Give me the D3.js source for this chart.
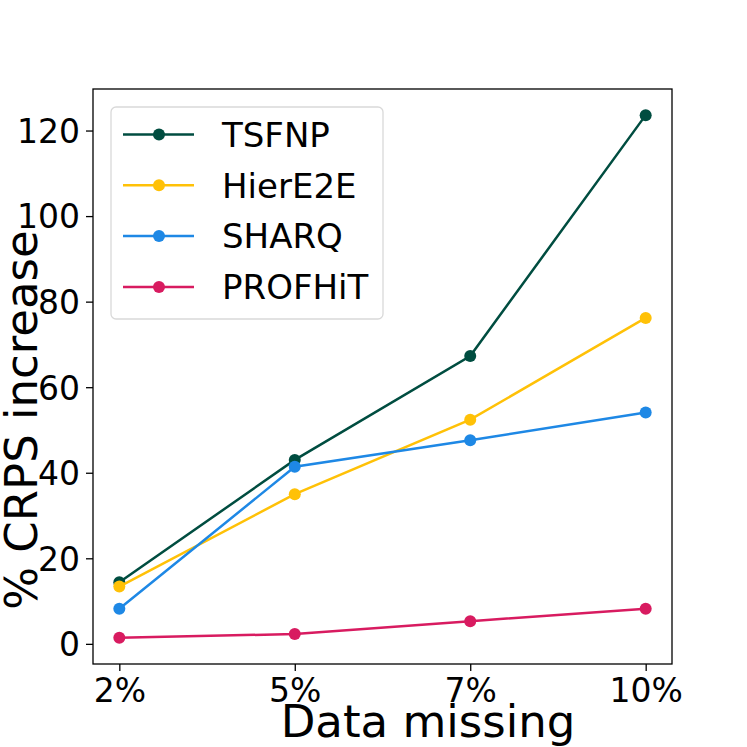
<!DOCTYPE html>
<html>
<head>
<meta charset="utf-8">
<script src="https://cdn.jsdelivr.net/npm/d3@7"></script>
<style>
  body { margin: 0; background: white; }
  text { font-family: "DejaVu Sans", sans-serif; }
</style>
</head>
<body>
<svg width="747" height="747"></svg>
<script>
// Data
const categories = ['2%', '5%', '7%', '10%'];
const series_names = ['TSFNP', 'HierE2E', 'SHARQ', 'PROFHiT'];
const tsfnp = [14.4, 43.0, 67.3, 123.6];
const hiere2e = [13.4, 35.0, 52.4, 76.2];
const sharq = [8.2, 41.4, 47.6, 54.1];
const profhit = [1.4, 2.3, 5.3, 8.2];
const y_ticks = [0, 20, 40, 60, 80, 100, 120];
const colors = ['#004d40', '#ffc107', '#1e88e5', '#d81b60'];

const series = [tsfnp, hiere2e, sharq, profhit].map((values, i) => ({
    name: series_names[i],
    color: colors[i],
    values: values
}));

// Constants
const svg = d3.select('svg');
const margin = { top: 89, right: 75, bottom: 83, left: 93 };
const width = +svg.attr('width');
const height = +svg.attr('height');
const inner_width = width - margin.left - margin.right;
const inner_height = height - margin.top - margin.bottom;

const all_values = series.flatMap(s => s.values);
const y_min = d3.min(all_values);
const y_max = d3.max(all_values);
const y_pad = (y_max - y_min) * 0.05;

const x_scale = d3.scalePoint()
    .domain(categories)
    .range([0, inner_width])
    .padding(0.15);

const y_scale = d3.scaleLinear()
    .domain([y_min - y_pad, y_max + y_pad])
    .range([inner_height, 0]);

const g = svg.append('g')
    .attr('transform', `translate(${margin.left}, ${margin.top})`);

// Axes
const y_axis = g.append('g')
    .call(d3.axisLeft(y_scale).tickValues(y_ticks).tickSize(7).tickPadding(6));
const x_axis = g.append('g')
    .attr('transform', `translate(0, ${inner_height})`)
    .call(d3.axisBottom(x_scale).tickSize(7).tickPadding(5));

[y_axis, x_axis].forEach(ax => {
    ax.select('.domain').remove();
    ax.selectAll('.tick line').attr('stroke', 'black').attr('stroke-width', 1.3);
    ax.selectAll('.tick text')
        .attr('fill', 'black')
        .style('font-size', '33px')
        .style('font-family', '"DejaVu Sans", sans-serif');
});
x_axis.selectAll('.tick text').attr('dy', '0.8em');
y_axis.selectAll('.tick text').attr('dy', '0.36em');

// Frame
g.append('rect')
    .attr('x', 0)
    .attr('y', 0)
    .attr('width', inner_width)
    .attr('height', inner_height)
    .attr('fill', 'none')
    .attr('stroke', 'black')
    .attr('stroke-width', 1.3);

// Lines and markers
const line = d3.line()
    .x((d, i) => x_scale(categories[i]))
    .y(d => y_scale(d));

series.forEach(s => {
    g.append('path')
        .datum(s.values)
        .attr('d', line)
        .attr('fill', 'none')
        .attr('stroke', s.color)
        .attr('stroke-width', 2.5);
    g.selectAll(null)
        .data(s.values)
        .enter()
        .append('circle')
        .attr('cx', (d, i) => x_scale(categories[i]))
        .attr('cy', d => y_scale(d))
        .attr('r', 6)
        .attr('fill', s.color);
});

// Axis labels
svg.append('text')
    .attr('x', 428)
    .attr('y', 737)
    .attr('text-anchor', 'middle')
    .style('font-size', '45px')
    .text('Data missing');

svg.append('text')
    .attr('transform', `translate(37, 420) rotate(-90)`)
    .attr('text-anchor', 'middle')
    .style('font-size', '45px')
    .text('% CRPS increase');

// Legend
const legend = svg.append('g')
    .attr('transform', 'translate(111, 107)');
legend.append('rect')
    .attr('width', 272)
    .attr('height', 212)
    .attr('rx', 5)
    .attr('fill', 'white')
    .attr('fill-opacity', 0.8)
    .attr('stroke', '#d9d9d9')
    .attr('stroke-width', 1.3);

series.forEach((s, i) => {
    const row = legend.append('g')
        .attr('transform', `translate(0, ${27.5 + i * 50.8})`);
    row.append('line')
        .attr('x1', 12)
        .attr('x2', 83)
        .attr('stroke', s.color)
        .attr('stroke-width', 2.5);
    row.append('circle')
        .attr('cx', 48)
        .attr('r', 6)
        .attr('fill', s.color);
    row.append('text')
        .attr('x', 111)
        .attr('dy', '0.36em')
        .style('font-size', '34px')
        .text(s.name);
});
</script>
</body>
</html>
